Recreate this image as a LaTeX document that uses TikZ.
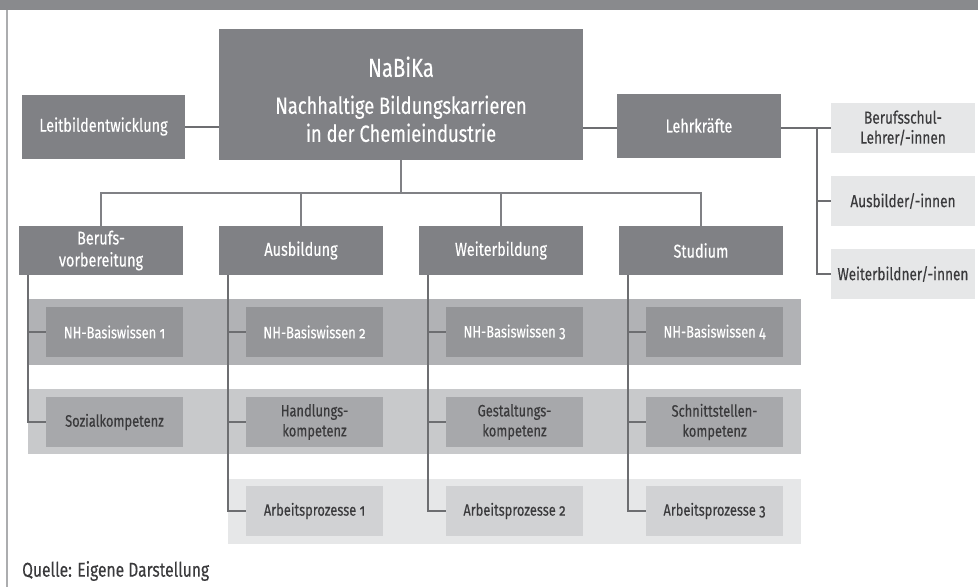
\documentclass[tikz,border=0pt]{standalone}
\usepackage{fontspec}
\setmainfont{Fira Sans}[FakeStretch=0.78,FakeBold=0.3,Numbers=OldStyle]
\usepackage{tikz}
\usetikzlibrary{calc,positioning}

\definecolor{barcol}{HTML}{898A8D}
\definecolor{darkbox}{HTML}{808185}
\definecolor{nhbox}{HTML}{949598}
\definecolor{kompbox}{HTML}{A7A8AB}
\definecolor{apbox}{HTML}{D1D2D4}
\definecolor{lightbox}{HTML}{E6E7E8}
\definecolor{bandA}{HTML}{B1B2B5}
\definecolor{bandB}{HTML}{C8C9CB}
\definecolor{bandC}{HTML}{E6E7E8}
\definecolor{linecol}{HTML}{6D6E71}
\definecolor{txtcol}{HTML}{3A3A3C}

\begin{document}
\begin{tikzpicture}[x=1pt,y=-1pt,inner sep=0pt,
	box/.style={fill=darkbox,text=white,align=center,minimum width=164,minimum height=50},
	headbox/.style={box,font=\fontsize{18.5}{22}\selectfont,minimum height=64},
	pathbox/.style={box,font=\fontsize{18.5}{22}\selectfont,minimum height=49},
	inbox/.style={align=center,minimum width=137,minimum height=50,font=\fontsize{16.5}{20}\selectfont},
	nhstyle/.style={inbox,fill=nhbox,text=white},
	kpstyle/.style={inbox,fill=kompbox,text=txtcol},
	apstyle/.style={inbox,fill=apbox,text=txtcol},
	rolebox/.style={fill=lightbox,text=txtcol,align=center,minimum width=144,minimum height=50,font=\fontsize{17.5}{20}\selectfont},
	treeline/.style={draw=darkbox,line width=1.2},
	branch/.style={draw=linecol,line width=2}]
	\useasboundingbox (0,0) rectangle (978,587);
	\fill[barcol] (0,0) rectangle (978,10);
	\draw[draw=barcol!70,line width=1.5] (7,10) -- (7,587);

	\fill[bandA] (28,299) rectangle (801,365);
	\fill[bandB] (28,389) rectangle (801,454);
	\fill[bandC] (228,479) rectangle (801,544);

	\node[box,minimum width=364,minimum height=131,font=\fontsize{23.5}{28}\selectfont] (nabika) at (401,94.5)
		{\rule{0pt}{30pt}{\fontsize{26}{28}\selectfont NaBiKa}\\[9pt]
		Nachhaltige Bildungskarrieren\\
		in der Chemieindustrie};
	\node[headbox,minimum width=163] (leitbild) at (103.5,126.5) {Leitbildentwicklung};
	\node[headbox] (lehrk) at (699,125.5) {Lehrkräfte};

	\node[rolebox] (bschul) at (903,128) {Berufsschul-\\Lehrer/-innen};
	\node[rolebox] (ausbilder) at (903,201) {Ausbilder/-innen};
	\node[rolebox] (wbildner) at (903,274) {Weiterbildner/-innen};

	\node[pathbox] (berufsv) at (101,250.5) {Berufs-\\vorbereitung};
	\node[pathbox] (ausb) at (301,250.5) {Ausbildung};
	\node[pathbox] (weiter) at (501,250.5) {Weiterbildung};
	\node[pathbox] (studium) at (701,250.5) {Studium};

	\node[nhstyle] (nh1) at (114.5,332) {NH-Basiswissen 1};
	\node[nhstyle] (nh2) at (314.5,332) {NH-Basiswissen 2};
	\node[nhstyle] (nh3) at (514.5,332) {NH-Basiswissen 3};
	\node[nhstyle] (nh4) at (714.5,332) {NH-Basiswissen 4};

	\node[kpstyle] (sozial) at (114.5,422) {Sozialkompetenz};
	\node[kpstyle] (handl) at (314.5,422) {Handlungs-\\kompetenz};
	\node[kpstyle] (gestalt) at (514.5,422) {Gestaltungs-\\kompetenz};
	\node[kpstyle] (schnitt) at (714.5,422) {Schnittstellen-\\kompetenz};

	\node[apstyle] (ap1) at (314.5,511) {Arbeitsprozesse 1};
	\node[apstyle] (ap2) at (514.5,511) {Arbeitsprozesse 2};
	\node[apstyle] (ap3) at (714.5,511) {Arbeitsprozesse 3};

	\node[anchor=west,text=txtcol,font=\fontsize{20}{22}\selectfont] (quelle) at (22,571) {Quelle: Eigene Darstellung};

	\draw[branch] (leitbild.east) -- (leitbild.east -| nabika.west);
	\draw[branch] (nabika.east |- bschul.west) -- (lehrk.west |- bschul.west);
	\coordinate (rfork) at (817,128);
	\draw[branch] (lehrk.east |- bschul.west) -- (bschul.west);
	\draw[branch] (rfork) |- (ausbilder.west);
	\draw[branch] (rfork) |- (wbildner.west);

	\coordinate (fork) at (401,193);
	\draw[treeline] (nabika.south) -- (fork);
	\draw[treeline] (berufsv.north) |- (fork) -| (studium.north);
	\draw[treeline] (ausb.north) -- (ausb.north |- fork);
	\draw[treeline] (weiter.north) -- (weiter.north |- fork);

	\foreach \col/\item in {berufsv/nh1,berufsv/sozial,ausb/nh2,ausb/handl,ausb/ap1,
		weiter/nh3,weiter/gestalt,weiter/ap2,studium/nh4,studium/schnitt,studium/ap3}
		\draw[branch] ([xshift=9]\col.south west) |- (\item.west);
\end{tikzpicture}
\end{document}
